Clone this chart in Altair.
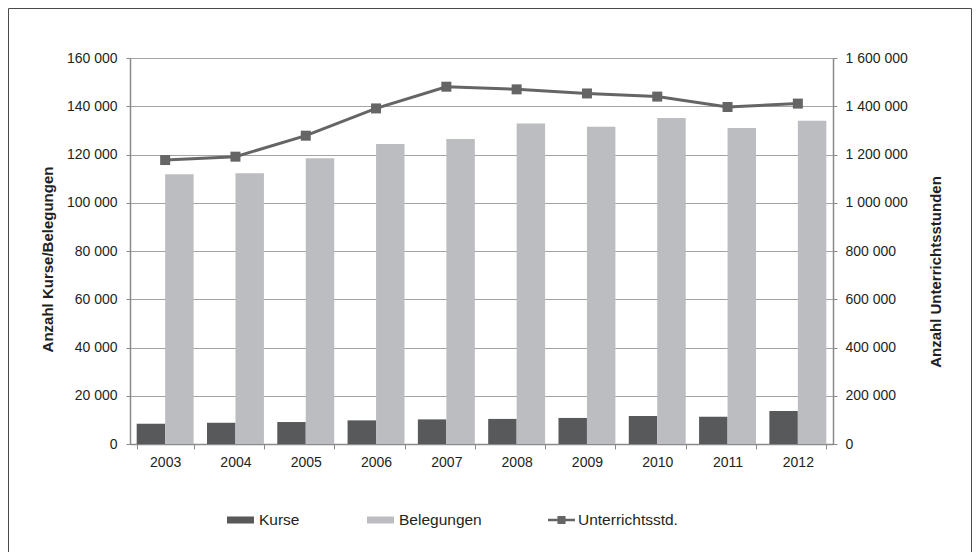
import altair as alt
import pandas as pd

years = ["2003", "2004", "2005", "2006", "2007", "2008", "2009", "2010", "2011", "2012"]
kurse = [8400, 8800, 9100, 9800, 10200, 10400, 10800, 11600, 11300, 13700]
belegungen = [111800, 112200, 118400, 124350, 126400, 132900, 131500, 135100, 131000, 134000]
stunden = [1177000, 1191000, 1278000, 1391000, 1481000, 1470000, 1453000, 1440000, 1397000, 1411000]
bar_series = ["Kurse", "Belegungen"]
bar_colors = ["#58595b", "#bcbdc0"]
line_series = "Unterrichtsstd."
line_color = "#656565"
left_ticks = [0, 20000, 40000, 60000, 80000, 100000, 120000, 140000, 160000]
right_ticks = [0, 200000, 400000, 600000, 800000, 1000000, 1200000, 1400000, 1600000]

W, H = 703, 386
PAD = {"left": 122, "top": 50, "right": 139, "bottom": 108}

bar_df = pd.DataFrame(
    [{"year": y, "series": "Kurse", "value": v} for y, v in zip(years, kurse)]
    + [{"year": y, "series": "Belegungen", "value": v} for y, v in zip(years, belegungen)]
)
line_df = pd.DataFrame({"year": years, "hours": stunden, "series": [line_series] * len(years)})

FONT = "Liberation Sans"
TXT = "#231f20"
LAB_EXPR = "replace(format(datum.value, ','), regexp(',', 'g'), ' ')"

common_legend = dict(
    title=None, orient="none", legendY=448.5, direction="horizontal",
    symbolSize=729, labelFontSize=15.5, labelFont=FONT, labelColor=TXT,
    columnPadding=67, padding=0,
)

x_enc = alt.X(
    "year:N",
    sort=years,
    scale=alt.Scale(paddingInner=0.19, paddingOuter=0.095),
    axis=alt.Axis(title=None, labelAngle=0, tickBand="extent", tickSize=5,
                  labelPadding=6, grid=False),
)

bars = alt.Chart(bar_df).mark_bar().encode(
    x=x_enc,
    xOffset=alt.XOffset("series:N", sort=bar_series,
                        scale=alt.Scale(paddingInner=0, paddingOuter=0)),
    y=alt.Y(
        "value:Q",
        scale=alt.Scale(domain=[0, 160000], nice=False),
        axis=alt.Axis(values=left_ticks, title="Anzahl Kurse/Belegungen",
                      labelExpr=LAB_EXPR, grid=True, gridColor="#a3a3a3",
                      tickSize=4, labelPadding=9,
                      titleX=-83, titleY=201, titleAngle=270,
                      titleAlign="center", titleBaseline="middle"),
    ),
    color=alt.Color("series:N", sort=bar_series,
                    scale=alt.Scale(domain=bar_series, range=bar_colors),
                    legend=alt.Legend(legendX=97, symbolType="M-1,-0.26H1V0.26H-1Z",
                                      symbolStrokeWidth=0, labelOffset=5, **common_legend)),
)

y_right = alt.Y(
    "hours:Q",
    scale=alt.Scale(domain=[0, 1600000], nice=False),
    axis=alt.Axis(orient="right", values=right_ticks, title="Anzahl Unterrichtsstunden",
                  labelExpr=LAB_EXPR, grid=False, tickSize=4, labelPadding=8,
                  titleX=102, titleY=213.5, titleAngle=270,
                  titleAlign="center", titleBaseline="middle"),
)

line = alt.Chart(line_df).mark_line(color=line_color, strokeWidth=3).encode(
    x=alt.X("year:N", sort=years),
    y=y_right,
)

points = alt.Chart(line_df).mark_point(
    shape="square", size=100, filled=True, color=line_color
).encode(
    x=alt.X("year:N", sort=years),
    y=y_right,
    opacity=alt.Opacity(
        "series:N", scale=alt.Scale(domain=[line_series], range=[1]),
        legend=alt.Legend(
            legendX=418,
            symbolType="M-1,-0.09H-0.3V-0.3H0.3V-0.09H1V0.09H0.3V0.3H-0.3V0.09H-1Z",
            symbolFillColor=line_color, symbolStrokeWidth=0, labelOffset=3,
            **common_legend)),
)

frame = alt.Chart(alt.Data(values=[{"frame": 1}])).mark_rect(
    fillOpacity=0, stroke="#4a4a4a", strokeWidth=1
).encode(
    x=alt.value(-PAD["left"] + 0.5),
    x2=alt.value(W + PAD["right"] - 0.5),
    y=alt.value(-PAD["top"] + 0.5),
    y2=alt.value(H + PAD["bottom"] + 20),
)

chart = (
    alt.layer(bars, alt.layer(line, points), frame)
    .resolve_scale(y="independent")
    .properties(width=W, height=H, padding=PAD, autosize=alt.AutoSizeParams(type="none"),
                background="white")
    .configure_view(strokeWidth=0)
    .configure_axis(
        labelFont=FONT, labelFontSize=14, labelColor=TXT,
        titleFont=FONT, titleFontSize=15, titleFontWeight="bold", titleColor=TXT,
        domainColor="#8a8a8a", domainWidth=1.5, tickColor="#8a8a8a",
    )
)

chart.save("out.html", embed_options={"renderer": "svg", "actions": False})
